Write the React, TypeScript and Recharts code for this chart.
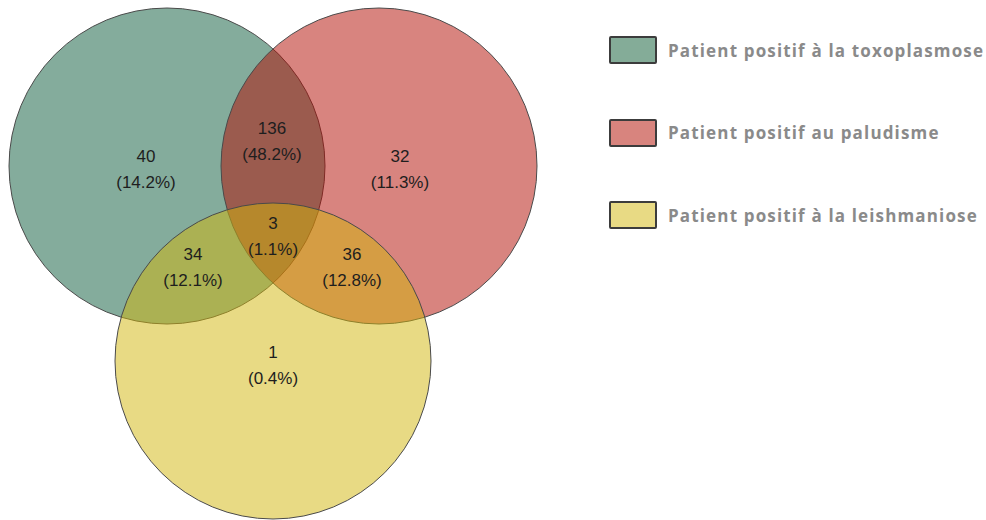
import React from 'react';
import { ScatterChart, Scatter, XAxis, YAxis, Legend } from 'recharts';

const setNames = [
  'Patient positif à la toxoplasmose',
  'Patient positif au paludisme',
  'Patient positif à la leishmaniose',
];
const setColors = ['#095a3a', '#b10a00', '#d1b50a'];
const legendColors = ['#84ac98', '#d8847e', '#e8da84'];
const circleX = [167, 379, 273];
const circleY = [166, 166, 361];
const circleR = [158, 158, 158];

const regionCounts = [40, 136, 32, 3, 34, 36, 1];
const regionPcts = ['14.2%', '48.2%', '11.3%', '1.1%', '12.1%', '12.8%', '0.4%'];
const regionX = [146, 272, 400, 273, 193, 352, 273];
const regionY = [169, 141, 169, 236, 267, 267, 365];

const W = 986;
const H = 520;

const circleData = setNames.map((name, i) => ({
  name,
  x: circleX[i],
  y: circleY[i],
  r: circleR[i],
  color: setColors[i],
}));

const regionData = regionCounts.map((c, i) => ({
  x: regionX[i],
  y: regionY[i],
  count: c,
  pct: regionPcts[i],
}));

const CircleShape = (props: any) => {
  const { cx, cy, payload } = props;
  const rPx = payload.r * (W / W);
  return (
    <circle
      cx={cx}
      cy={cy}
      r={rPx}
      fill={payload.color}
      fillOpacity={0.5}
      stroke="#4a4a4a"
      strokeWidth={1}
    />
  );
};

const LabelShape = (props: any) => {
  const { cx, cy, payload } = props;
  return (
    <text
      x={cx}
      y={cy}
      textAnchor="middle"
      fontFamily='"Liberation Sans", Arial, sans-serif'
      fontSize={17}
      fill="#1e1e1e"
    >
      <tspan x={cx} dy={-12.5} dominantBaseline="central">{payload.count}</tspan>
      <tspan x={cx} dy={26} dominantBaseline="central">({payload.pct})</tspan>
    </text>
  );
};

const renderLegend = () => (
  <div
    style={{
      fontFamily: '"Open Sans", sans-serif',
      fontWeight: 700,
      fontSize: 17,
      letterSpacing: 1.15,
      color: '#8a8a8a',
    }}
  >
    {setNames.map((n, i) => (
      <div
        key={n}
        style={{
          display: 'flex',
          alignItems: 'center',
          height: 28,
          marginBottom: 54.5,
          whiteSpace: 'nowrap',
        }}
      >
        <span
          style={{
            display: 'inline-block',
            width: 44,
            height: 24,
            border: '2px solid #3c3c3c',
            borderRadius: 2,
            background: legendColors[i],
          }}
        />
        <span style={{ marginLeft: 11 }}>{n}</span>
      </div>
    ))}
  </div>
);

export default function App() {
  return (
    <div style={{ position: 'absolute', left: 0, top: 0, width: W, height: H, background: '#fff' }}>
      <ScatterChart width={W} height={H} margin={{ top: 0, right: 0, bottom: 0, left: 0 }}>
        <XAxis type="number" dataKey="x" domain={[0, W]} hide />
        <YAxis type="number" dataKey="y" domain={[0, H]} reversed hide />
        <Legend
          content={renderLegend}
          layout="vertical"
          align="center"
          verticalAlign="middle"
          wrapperStyle={{ position: 'absolute', left: 609, top: 36, width: 377, height: 'auto' }}
        />
        <Scatter data={circleData} shape={CircleShape} isAnimationActive={false} />
        <Scatter data={regionData} shape={LabelShape} isAnimationActive={false} />
      </ScatterChart>
    </div>
  );
}
